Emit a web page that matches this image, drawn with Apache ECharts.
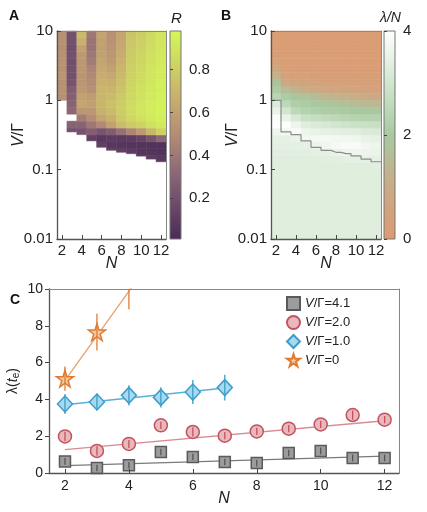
<!DOCTYPE html>
<html>
<head>
<meta charset="utf-8">
<script src="https://cdn.jsdelivr.net/npm/echarts@6/dist/echarts.min.js"></script>
<style>
  html, body { margin: 0; padding: 0; background: #fff; }
  #chart { width: 427px; height: 512px; }
</style>
</head>
<body>
<div id="chart"></div>
<script>
// ---- panels A and B: columns are N, rows are log10(V/Γ) bins ----
const sizesN = [2, 3, 4, 5, 6, 7, 8, 9, 10, 11, 12];
const binsA = [-1.0, -0.9, -0.8, -0.7, -0.6, -0.5, -0.4, -0.3, -0.2, -0.1, 0.0,
  0.1, 0.2, 0.3, 0.4, 0.5, 0.6, 0.7, 0.8, 0.9, 1.0];
const binsB = [-2.0, -1.0, -0.9, -0.8, -0.7, -0.6, -0.5, -0.4, -0.3, -0.2, -0.1, 0.0,
  0.1, 0.2, 0.3, 0.4, 0.5, 0.6, 0.7, 0.8, 0.9, 1.0];
// lowest V/Γ with a result for each N (white below it in A, grey steps in B)
const edgeVG = [1.0, 0.35, 0.32, 0.26, 0.21, 0.19, 0.178, 0.17, 0.158, 0.142, 0.13];

// R, bottom bin first (null = no data)
const heatR = [
  [null, null, null, null, null, null, null, null, null, null, 0.52, 0.53, 0.52, 0.54, 0.52, 0.53, 0.52, 0.51, 0.53, 0.52],
  [null, null, null, null, null, 0.2, 0.3, null, 0.32, 0.3, 0.28, 0.27, 0.22, 0.2, 0.2, 0.19, 0.2, 0.19, 0.2, 0.2],
  [null, null, null, null, null, 0.22, 0.3, 0.42, 0.55, 0.62, 0.6, 0.56, 0.55, 0.54, 0.55, 0.55, 0.56, 0.6, 0.68, 0.72],
  [null, null, null, null, 0.12, 0.28, 0.4, 0.5, 0.55, 0.6, 0.58, 0.52, 0.5, 0.48, 0.46, 0.42, 0.4, 0.38, 0.38, 0.4],
  [null, null, null, 0.12, 0.08, 0.22, 0.48, 0.62, 0.68, 0.7, 0.7, 0.7, 0.68, 0.66, 0.64, 0.62, 0.6, 0.6, 0.6, 0.62],
  [null, null, 0.14, 0.08, 0.1, 0.27, 0.6, 0.68, 0.72, 0.75, 0.72, 0.7, 0.67, 0.64, 0.6, 0.57, 0.55, 0.54, 0.53, 0.52],
  [null, null, 0.12, 0.07, 0.09, 0.36, 0.72, 0.78, 0.8, 0.8, 0.78, 0.76, 0.74, 0.72, 0.7, 0.68, 0.66, 0.64, 0.63, 0.62],
  [null, null, 0.1, 0.06, 0.1, 0.46, 0.78, 0.84, 0.86, 0.86, 0.85, 0.84, 0.83, 0.82, 0.81, 0.8, 0.79, 0.78, 0.77, 0.76],
  [null, 0.12, 0.07, 0.06, 0.14, 0.56, 0.82, 0.88, 0.9, 0.9, 0.89, 0.88, 0.87, 0.86, 0.85, 0.84, 0.83, 0.82, 0.81, 0.8],
  [null, 0.1, 0.06, 0.05, 0.22, 0.7, 0.88, 0.92, 0.93, 0.93, 0.92, 0.92, 0.91, 0.9, 0.9, 0.89, 0.88, 0.87, 0.86, 0.85],
  [null, 0.08, 0.05, 0.05, 0.32, 0.82, 0.92, 0.94, 0.95, 0.95, 0.95, 0.94, 0.94, 0.93, 0.93, 0.92, 0.92, 0.91, 0.9, 0.9]
];

// λ/N, bottom bin first
const heatLN = [
  [3.3, 3.3, 3.3, 3.35, 3.4, 3.45, 3.6, 3.95, 3.9, 3.5, 3.2, 2.4, 2.1, 1.8, 1.3, 0.8, 0.5, 0.3, 0.25, 0.2, 0.2],
  [3.3, 3.3, 3.3, 3.35, 3.4, 3.45, 3.7, 3.95, 3.5, 3.0, 2.5, 2.1, 1.6, 0.9, 0.5, 0.35, 0.3, 0.25, 0.22, 0.2, 0.2],
  [3.3, 3.3, 3.3, 3.35, 3.4, 3.5, 3.85, 3.6, 3.1, 2.5, 2.2, 1.9, 1.3, 0.7, 0.4, 0.3, 0.25, 0.22, 0.2, 0.2, 0.2],
  [3.3, 3.3, 3.3, 3.35, 3.45, 3.7, 3.6, 3.3, 2.8, 2.3, 2.1, 1.8, 1.1, 0.6, 0.35, 0.28, 0.24, 0.22, 0.2, 0.2, 0.2],
  [3.3, 3.3, 3.3, 3.4, 3.55, 3.75, 3.5, 3.2, 2.7, 2.2, 2.0, 1.6, 0.9, 0.5, 0.32, 0.27, 0.24, 0.22, 0.2, 0.2, 0.2],
  [3.3, 3.3, 3.35, 3.45, 3.65, 3.75, 3.45, 3.1, 2.6, 2.15, 1.9, 1.4, 0.8, 0.45, 0.3, 0.26, 0.23, 0.21, 0.2, 0.2, 0.2],
  [3.3, 3.3, 3.35, 3.5, 3.75, 3.7, 3.4, 3.0, 2.5, 2.1, 1.8, 1.3, 0.7, 0.42, 0.3, 0.25, 0.22, 0.21, 0.2, 0.2, 0.2],
  [3.3, 3.3, 3.4, 3.6, 3.85, 3.7, 3.35, 2.9, 2.4, 2.05, 1.7, 1.2, 0.65, 0.4, 0.3, 0.25, 0.22, 0.2, 0.2, 0.2, 0.2],
  [3.3, 3.3, 3.4, 3.65, 3.85, 3.65, 3.3, 2.85, 2.35, 2.0, 1.6, 1.1, 0.6, 0.38, 0.28, 0.24, 0.22, 0.2, 0.2, 0.2, 0.2],
  [3.3, 3.3, 3.45, 3.6, 3.7, 3.5, 3.2, 2.8, 2.3, 2.0, 1.5, 1.0, 0.55, 0.36, 0.28, 0.24, 0.21, 0.2, 0.2, 0.2, 0.2],
  [3.3, 3.35, 3.45, 3.55, 3.6, 3.45, 3.15, 2.75, 2.3, 1.95, 1.45, 0.95, 0.5, 0.35, 0.27, 0.23, 0.21, 0.2, 0.2, 0.2, 0.2]
];

// ---- panel C ----
const nLong = [2, 3, 4, 5, 6, 7, 8, 9, 10, 11, 12];
const lam41 = [0.63, 0.27, 0.42, 1.14, 0.87, 0.6, 0.54, 1.09, 1.2, 0.82, 0.82];
const err41 = [0.18, 0.18, 0.18, 0.18, 0.18, 0.18, 0.18, 0.18, 0.18, 0.18, 0.18];
const lam20 = [1.99, 1.2, 1.58, 2.59, 2.23, 2.03, 2.26, 2.41, 2.64, 3.15, 2.9];
const err20 = [0.25, 0.25, 0.22, 0.2, 0.25, 0.2, 0.2, 0.2, 0.2, 0.25, 0.2];
const nShort = [2, 3, 4, 5, 6, 7];
const lam10 = [3.75, 3.86, 4.22, 4.11, 4.4, 4.64];
const err10 = [0.55, 0.45, 0.55, 0.55, 0.65, 0.7];
const nZero = [2, 3, 4];
const lam0 = [5.13, 7.66, 10.4];
const err0 = [0.66, 1.0, 1.5];
const fit41 = [[2, 0.4], [12, 0.92]];
const fit20 = [[2, 1.27], [12, 2.84]];
const fit10 = [[2, 3.71], [7, 4.62]];
const fit0 = [[2, 5.04], [4.2, 10.36]];

const FONT = "'Liberation Sans', Arial, sans-serif";
const rColors = ['#4a2a56', '#6d4a6b', '#8f6a76', '#b48c74', '#c8ac6e', '#cdd264', '#d4f858'];
const lnColors = ['#de9a70', '#c9ab86', '#a8c9a0', '#d2e6cf', '#ffffff'];
const starPath = 'path://M50,0 L61,35 L98,35 L68,57 L79,91 L50,70 L21,91 L32,57 L2,35 L39,35 Z';

function cells(values, bins, clipBottom) {
  const out = [];
  values.forEach((col, i) => {
    col.forEach((v, j) => {
      if (v == null) return;
      let lo = bins[j];
      if (clipBottom) lo = Math.max(lo, Math.log10(edgeVG[i]));
      const hi = bins[j + 1];
      if (hi <= lo) return;
      out.push([sizesN[i], Math.pow(10, lo), Math.pow(10, hi), v]);
    });
  });
  return out;
}

function heatCell(params, api) {
  const n = api.value(0);
  const p0 = api.coord([n - 0.5, api.value(2)]);
  const p1 = api.coord([n + 0.5, api.value(1)]);
  const c = api.visual('color');
  return {
    type: 'rect',
    shape: { x: p0[0], y: p0[1], width: p1[0] - p0[0], height: p1[1] - p0[1] },
    style: { fill: c, stroke: c, lineWidth: 0.5 }
  };
}

function barCell(colors, lo, hi) {
  return function (params, api) {
    const p0 = api.coord([0, hi]);
    const p1 = api.coord([1, lo]);
    const stops = colors.map((c, i) => ({ offset: i / (colors.length - 1), color: c }));
    return {
      type: 'rect',
      shape: { x: p0[0], y: p0[1], width: p1[0] - p0[0], height: p1[1] - p0[1] },
      style: { fill: new echarts.graphic.LinearGradient(0, 1, 0, 0, stops), stroke: '#777', lineWidth: 1 }
    };
  };
}

function errBar(color) {
  return function (params, api) {
    const x = api.value(0), y = api.value(1), e = api.value(2);
    const a = api.coord([x, Math.max(0, y - e)]);
    const b = api.coord([x, Math.min(10, y + e)]);
    return {
      type: 'line',
      shape: { x1: a[0], y1: a[1], x2: b[0], y2: b[1] },
      style: { stroke: color, lineWidth: 1.3 }
    };
  };
}

const labelStyle = { fontFamily: FONT, fontSize: 15, color: '#222' };
const evenN = [2, 4, 6, 8, 10, 12];
const logFmt = v => String(+(+v).toPrecision(2));

function heatX(grid) {
  return {
    gridIndex: grid, type: 'value', min: 1.5, max: 12.5, z: 10,
    name: 'N', nameLocation: 'middle', nameGap: 17, nameMoveOverlap: false,
    nameTextStyle: { fontFamily: FONT, fontSize: 16, fontStyle: 'italic', color: '#222' },
    axisLine: { lineStyle: { color: '#555', width: 1.3 } },
    axisTick: { inside: true, length: 4, customValues: evenN, lineStyle: { color: '#444' } },
    axisLabel: Object.assign({ margin: 4, customValues: evenN }, labelStyle),
    splitLine: { show: false }
  };
}
function heatY(grid) {
  return {
    gridIndex: grid, type: 'log', logBase: 10, min: 0.01, max: 10, z: 10,
    name: '{i|V}{r|/Γ}', nameLocation: 'middle', nameGap: 30, nameMoveOverlap: false,
    nameTextStyle: {
      rich: {
        i: { fontFamily: FONT, fontSize: 16, fontStyle: 'italic', color: '#222' },
        r: { fontFamily: FONT, fontSize: 16, color: '#222' }
      }
    },
    axisLine: { lineStyle: { color: '#555', width: 1.3 } },
    axisTick: { inside: true, length: 4, lineStyle: { color: '#444' } },
    minorTick: { show: false },
    axisLabel: Object.assign({ margin: 4, formatter: logFmt }, labelStyle),
    splitLine: { show: false }
  };
}
function frameLine(grid, pos) {
  return {
    gridIndex: grid, type: 'value', position: pos, min: 0, max: 1, z: 10,
    axisLine: { show: true, onZero: false, lineStyle: { color: '#888', width: 1 } },
    axisTick: { show: false }, axisLabel: { show: false }, splitLine: { show: false }
  };
}
function hiddenX(grid) {
  return { gridIndex: grid, type: 'value', min: 0, max: 1, show: false };
}
function barY(grid, lo, hi, ticks) {
  return {
    gridIndex: grid, type: 'value', position: 'right', min: lo, max: hi, z: 10,
    axisLine: { show: false },
    axisTick: { show: true, length: 3, customValues: ticks, lineStyle: { color: '#444' } },
    axisLabel: Object.assign({ margin: 8, customValues: ticks }, labelStyle),
    splitLine: { show: false }
  };
}

const gridBase = { outerBoundsMode: 'none', containLabel: false };

const option = {
  animation: false,
  backgroundColor: '#fff',
  grid: [
    Object.assign({ left: 57, top: 31, width: 109, height: 208 }, gridBase),
    Object.assign({ left: 170, top: 31, width: 11, height: 208 }, gridBase),
    Object.assign({ left: 271, top: 31, width: 110, height: 208 }, gridBase),
    Object.assign({ left: 384, top: 31, width: 11, height: 208 }, gridBase),
    Object.assign({ left: 49, top: 289, width: 350, height: 184 }, gridBase)
  ],
  xAxis: [
    heatX(0), frameLine(0, 'top'), hiddenX(1),
    heatX(2), frameLine(2, 'top'), hiddenX(3),
    {
      gridIndex: 4, type: 'value', min: 1.5, max: 12.45, z: 10,
      name: 'N', nameLocation: 'middle', nameGap: 18, nameMoveOverlap: false,
      nameTextStyle: { fontFamily: FONT, fontSize: 16, fontStyle: 'italic', color: '#222' },
      axisLine: { lineStyle: { color: '#555', width: 1.3 } },
      axisTick: { inside: true, length: 4, customValues: evenN, lineStyle: { color: '#444' } },
      axisLabel: { margin: 6, customValues: evenN, fontFamily: FONT, fontSize: 14, color: '#222' },
      splitLine: { show: false }
    },
    frameLine(4, 'top')
  ],
  yAxis: [
    heatY(0), frameLine(0, 'right'), barY(1, 0.01, 0.98, [0.2, 0.4, 0.6, 0.8]),
    heatY(2), frameLine(2, 'right'), barY(3, 0, 4, [0, 2, 4]),
    {
      gridIndex: 4, type: 'value', min: 0, max: 10, interval: 2, z: 10,
      name: '{n|λ(}{i|t}{s|e}{n|)}', nameLocation: 'middle', nameGap: 28, nameMoveOverlap: false,
      nameTextStyle: {
        rich: {
          n: { fontFamily: FONT, fontSize: 14, color: '#222' },
          i: { fontFamily: FONT, fontSize: 14, fontStyle: 'italic', color: '#222' },
          s: { fontFamily: FONT, fontSize: 10, color: '#222', verticalAlign: 'bottom', padding: [6, 0, 0, 0] }
        }
      },
      axisLine: { lineStyle: { color: '#555', width: 1.3 } },
      axisTick: { length: 4, lineStyle: { color: '#444' } },
      axisLabel: { margin: 6, fontFamily: FONT, fontSize: 14, color: '#222' },
      splitLine: { show: false }
    },
    frameLine(4, 'right')
  ],
  visualMap: [
    { show: false, type: 'continuous', seriesIndex: 0, dimension: 3, min: 0.01, max: 0.98, inRange: { color: rColors } },
    { show: false, type: 'continuous', seriesIndex: 2, dimension: 3, min: 0, max: 4, inRange: { color: lnColors } }
  ],
  legend: {
    orient: 'vertical', left: 281, top: 291, itemWidth: 13, itemHeight: 13, itemGap: 4,
    data: ['V/Γ=4.1', 'V/Γ=2.0', 'V/Γ=1.0', 'V/Γ=0'],
    formatter: name => '{i|V}{r|' + name.slice(1) + '}',
    textStyle: {
      rich: {
        i: { fontFamily: FONT, fontSize: 13, fontStyle: 'italic', color: '#222' },
        r: { fontFamily: FONT, fontSize: 13, color: '#222' }
      }
    }
  },
  graphic: [
    { type: 'text', left: 9, top: 9, style: { text: 'A', font: "bold 14px " + FONT, fill: '#111' } },
    { type: 'text', left: 221, top: 9, style: { text: 'B', font: "bold 14px " + FONT, fill: '#111' } },
    { type: 'text', left: 10, top: 293, style: { text: 'C', font: "bold 14px " + FONT, fill: '#111' } },
    { type: 'text', left: 171, top: 11, style: { text: 'R', font: "italic 15px " + FONT, fill: '#222' } },
    { type: 'text', left: 380, top: 11, style: { text: 'λ/N', font: "italic 14px " + FONT, fill: '#222' } }
  ],
  series: [
    {
      type: 'custom', xAxisIndex: 0, yAxisIndex: 0, renderItem: heatCell,
      encode: { x: 0, y: [1, 2] }, data: cells(heatR, binsA, true), z: 2
    },
    {
      type: 'custom', xAxisIndex: 2, yAxisIndex: 2, renderItem: barCell(rColors, 0.01, 0.98),
      data: [[0, 0.5]], z: 2
    },
    {
      type: 'custom', xAxisIndex: 3, yAxisIndex: 3, renderItem: heatCell,
      encode: { x: 0, y: [1, 2] }, data: cells(heatLN, binsB, false), z: 2
    },
    {
      type: 'line', xAxisIndex: 3, yAxisIndex: 3, step: 'middle', symbol: 'none', z: 4,
      lineStyle: { color: '#8c8c8c', width: 1.2 },
      data: [[1.5, edgeVG[0]]].concat(sizesN.map((n, i) => [n, edgeVG[i]]), [[12.5, edgeVG[edgeVG.length - 1]]])
    },
    {
      type: 'custom', xAxisIndex: 5, yAxisIndex: 5, renderItem: barCell(lnColors, 0, 4),
      data: [[0, 2]], z: 2
    },
    // fits
    { type: 'line', xAxisIndex: 6, yAxisIndex: 6, symbol: 'none', data: fit41, lineStyle: { color: '#7a7a7a', width: 1.3 }, z: 3 },
    { type: 'line', xAxisIndex: 6, yAxisIndex: 6, symbol: 'none', data: fit20, lineStyle: { color: '#d98a92', width: 1.3 }, z: 3 },
    { type: 'line', xAxisIndex: 6, yAxisIndex: 6, symbol: 'none', data: fit10, lineStyle: { color: '#56b0da', width: 1.3 }, z: 3 },
    { type: 'line', xAxisIndex: 6, yAxisIndex: 6, symbol: 'none', data: fit0, lineStyle: { color: '#e9a06c', width: 1.3 }, z: 3 },
    // points
    {
      name: 'V/Γ=4.1', type: 'scatter', xAxisIndex: 6, yAxisIndex: 6, symbol: 'rect', symbolSize: 11, z: 4,
      itemStyle: { color: '#9c9c9c', borderColor: '#5a5a5a', borderWidth: 1.5, opacity: 1 },
      data: nLong.map((n, i) => [n, lam41[i]])
    },
    {
      name: 'V/Γ=2.0', type: 'scatter', xAxisIndex: 6, yAxisIndex: 6, symbol: 'circle', symbolSize: 13, z: 4,
      itemStyle: { color: '#e7b9bd', borderColor: '#c4525e', borderWidth: 1.5, opacity: 1 },
      data: nLong.map((n, i) => [n, lam20[i]])
    },
    {
      name: 'V/Γ=1.0', type: 'scatter', xAxisIndex: 6, yAxisIndex: 6, symbol: 'diamond', symbolSize: [15, 16], z: 4,
      itemStyle: { color: '#a8d9ee', borderColor: '#3b9dca', borderWidth: 1.5, opacity: 1 },
      data: nShort.map((n, i) => [n, lam10[i]])
    },
    {
      name: 'V/Γ=0', type: 'scatter', xAxisIndex: 6, yAxisIndex: 6, symbol: starPath, symbolSize: 17, z: 4,
      clip: true,
      itemStyle: { color: '#f6c9a0', borderColor: '#e07a32', borderWidth: 1.5, opacity: 1 },
      data: nZero.map((n, i) => [n, lam0[i]])
    },
    // error bars
    { type: 'custom', xAxisIndex: 6, yAxisIndex: 6, renderItem: errBar('#555'), z: 5, data: nLong.map((n, i) => [n, lam41[i], err41[i]]) },
    { type: 'custom', xAxisIndex: 6, yAxisIndex: 6, renderItem: errBar('#c4525e'), z: 5, data: nLong.map((n, i) => [n, lam20[i], err20[i]]) },
    { type: 'custom', xAxisIndex: 6, yAxisIndex: 6, renderItem: errBar('#3b9dca'), z: 5, data: nShort.map((n, i) => [n, lam10[i], err10[i]]) },
    { type: 'custom', xAxisIndex: 6, yAxisIndex: 6, renderItem: errBar('#e07a32'), z: 5, data: nZero.map((n, i) => [n, lam0[i], err0[i]]) }
  ]
};

const chart = echarts.init(document.getElementById('chart'), null, { renderer: 'canvas' });
chart.setOption(option);
</script>
</body>
</html>
